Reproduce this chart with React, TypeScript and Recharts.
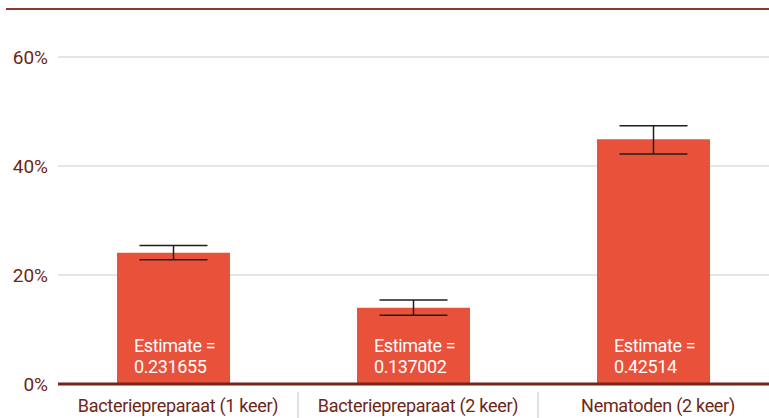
import { Bar, BarChart, CartesianGrid, ErrorBar, LabelList, XAxis, YAxis } from 'recharts'

const CATEGORIES = ['Bacteriepreparaat (1 keer)', 'Bacteriepreparaat (2 keer)', 'Nematoden (2 keer)']
const VALUES = [0.241, 0.14, 0.449]
const ERR_LOW = [0.013, 0.014, 0.027]
const ERR_HIGH = [0.013, 0.014, 0.025]
const ESTIMATES = ['0.231655', '0.137002', '0.42514']
const Y_TICKS = [0, 0.2, 0.4, 0.6]

const FONT = "Roboto, 'Noto Sans', sans-serif"
const TEXT = '#6e2616'
const AXIS = '#74251a'
const BAR = '#e8513a'

const data = CATEGORIES.map((name, i) => ({
  name,
  value: VALUES[i],
  err: [ERR_LOW[i], ERR_HIGH[i]],
  estimate: ESTIMATES[i],
  spacer: 0,
}))

function EstimateLabel(props: any) {
  const { x, y, height, index } = props
  const left = Number(x) + 17
  const bottom = Number(y) + Number(height)
  return (
    <g fill="#fff" fontSize={18} fontFamily={FONT} letterSpacing={-0.4}>
      <text x={left} y={bottom - 32}>
        Estimate =
      </text>
      <text x={left} y={bottom - 11}>
        {data[index]?.estimate}
      </text>
    </g>
  )
}

// category label plus a thin separator at the right edge of the band
function CategoryTick(props: any) {
  const { x, y, payload } = props
  const edge = x + (payload?.offset ?? 0)
  return (
    <g>
      <line x1={edge} x2={edge} y1={y - 7} y2={y + 30} stroke="#e2e2e2" strokeWidth={2} />
      <text
        x={x}
        y={y}
        dy="0.71em"
        textAnchor="middle"
        fill={TEXT}
        fontSize={18}
        fontFamily={FONT}
        letterSpacing={-0.3}
      >
        {payload?.value}
      </text>
    </g>
  )
}

export default function App() {
  return (
    <div
      style={{
        position: 'absolute',
        left: 0,
        top: 0,
        width: 769,
        height: 418,
        overflow: 'hidden',
        background: '#fff',
        fontFamily: FONT,
      }}
    >
      <div
        style={{ position: 'absolute', left: 6, right: 0, top: 8, height: 2, background: '#8e3a2a' }}
      />
      <BarChart
        width={778}
        height={418}
        data={data}
        margin={{ top: 57, right: 0, bottom: 0, left: 0 }}
        barGap={2}
      >
        <CartesianGrid stroke="#dcdcdc" strokeWidth={1.5} vertical={false} />
        <XAxis
          dataKey="name"
          height={34}
          axisLine={{ stroke: AXIS, strokeWidth: 3 }}
          tickLine={false}
          tickMargin={9}
          tick={CategoryTick}
          interval={0}
        />
        <YAxis
          domain={[0, 0.6]}
          ticks={Y_TICKS}
          width={58}
          axisLine={false}
          tickLine={false}
          tickMargin={4}
          tick={{ fill: TEXT, fontSize: 19, fontFamily: FONT }}
          tickFormatter={(v: number) => `${Math.round(v * 100)}%`}
        />
        <Bar dataKey="value" fill={BAR} barSize={113} isAnimationActive={false}>
          <ErrorBar dataKey="err" direction="y" width={34} stroke="#1e1e1e" strokeWidth={1.5} />
          <LabelList dataKey="estimate" content={EstimateLabel} />
        </Bar>
        <Bar dataKey="spacer" fill="transparent" barSize={8} isAnimationActive={false} />
      </BarChart>
    </div>
  )
}
